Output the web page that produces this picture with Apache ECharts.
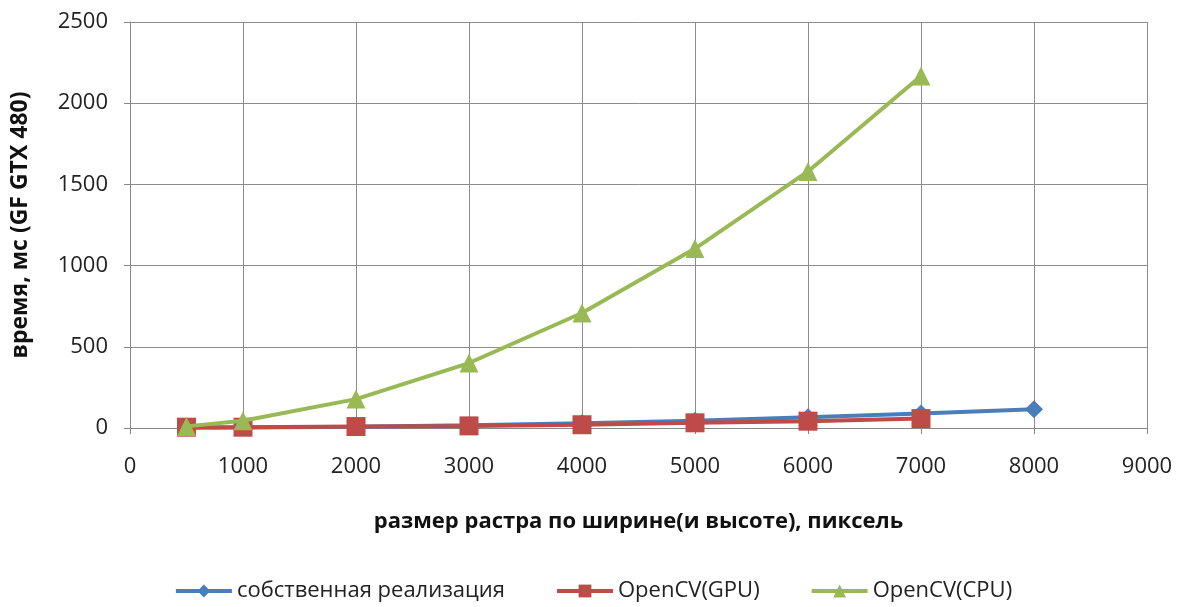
<!DOCTYPE html>
<html>
<head>
<meta charset="utf-8">
<script src="https://cdn.jsdelivr.net/npm/echarts@6/dist/echarts.min.js"></script>
<style>
  html, body { margin: 0; padding: 0; background: #fff; }
  #chart { width: 1186px; height: 607px; }
</style>
</head>
<body>
<div id="chart"></div>
<script>
// Image width (pixels) and timing in ms for each implementation
const ownSizes = [500, 1000, 2000, 3000, 4000, 5000, 6000, 7000, 8000];
const ownTimes = [1, 3, 8, 17, 30, 45, 66, 90, 115];

const gpuSizes = [500, 1000, 2000, 3000, 4000, 5000, 6000, 7000];
const gpuTimes = [5, 5, 9, 13, 20, 32, 42, 58];

const cpuSizes = [500, 1000, 2000, 3000, 4000, 5000, 6000, 7000];
const cpuTimes = [10, 45, 178, 400, 708, 1105, 1580, 2168];

const seriesNames = ['собственная реализация', 'OpenCV(GPU)', 'OpenCV(CPU)'];
const xTitle = 'размер растра по ширине(и высоте), пиксель';
const yTitle = 'время, мс (GF GTX 480)';

const pairs = (xs, ys) => xs.map((x, i) => [x, ys[i]]);
const font = '"Open Sans", "DejaVu Sans", sans-serif';
const plain = v => String(v);

const chart = echarts.init(document.getElementById('chart'));
chart.setOption({
  animation: false,
  grid: { left: 130, right: 39, top: 22, bottom: 179 },
  legend: {
    bottom: 0,
    left: 'center',
    itemWidth: 56,
    itemHeight: 16,
    itemGap: 50,
    textStyle: { fontFamily: font, fontSize: 22, color: '#222' },
    lineStyle: { width: 4 },
    data: seriesNames
  },
  xAxis: {
    type: 'value',
    min: 0, max: 9000, interval: 1000,
    name: xTitle,
    nameLocation: 'middle',
    nameGap: 83,
    nameTextStyle: { fontFamily: font, fontSize: 22, fontWeight: 'bold', color: '#111' },
    axisLine: { lineStyle: { color: '#888', width: 1 } },
    axisTick: { show: true, length: 6, lineStyle: { color: '#888' } },
    axisLabel: { fontFamily: font, fontSize: 22, color: '#222', margin: 28, formatter: plain },
    splitLine: { show: true, lineStyle: { color: '#8c8c8c', width: 1 } }
  },
  yAxis: {
    type: 'value',
    min: 0, max: 2500, interval: 500,
    name: yTitle,
    nameLocation: 'middle',
    nameGap: 98,
    nameTextStyle: { fontFamily: font, fontSize: 23, fontWeight: 'bold', color: '#111' },
    axisLine: { show: true, lineStyle: { color: '#888', width: 1 } },
    axisTick: { show: true, length: 6, lineStyle: { color: '#888' } },
    axisLabel: { fontFamily: font, fontSize: 22, color: '#222', margin: 22, formatter: plain },
    splitLine: { show: true, lineStyle: { color: '#8c8c8c', width: 1 } }
  },
  series: [
    {
      name: seriesNames[0], type: 'line',
      data: pairs(ownSizes, ownTimes),
      symbol: 'diamond', symbolSize: 18,
      lineStyle: { color: '#4a7ebb', width: 4 },
      itemStyle: { color: '#4a7ebb' },
      z: 2
    },
    {
      name: seriesNames[1], type: 'line',
      data: pairs(gpuSizes, gpuTimes),
      symbol: 'rect', symbolSize: 19,
      lineStyle: { color: '#be4b48', width: 4 },
      itemStyle: { color: '#be4b48' },
      z: 3
    },
    {
      name: seriesNames[2], type: 'line',
      data: pairs(cpuSizes, cpuTimes),
      symbol: 'triangle', symbolSize: 19,
      lineStyle: { color: '#98b954', width: 4 },
      itemStyle: { color: '#98b954' },
      z: 4
    }
  ]
});
</script>
</body>
</html>
